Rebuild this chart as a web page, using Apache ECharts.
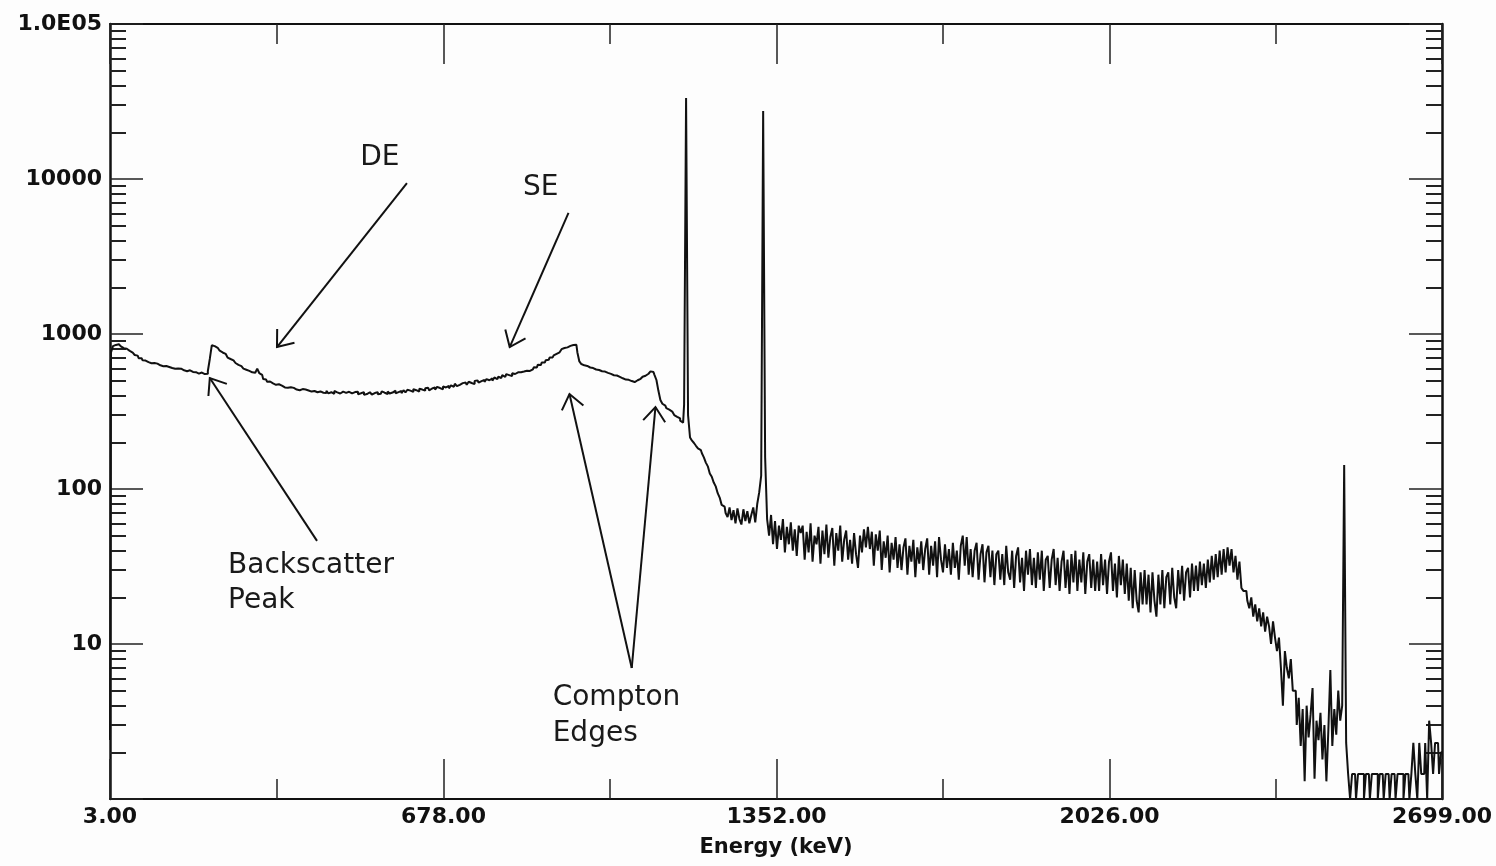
<!DOCTYPE html>
<html>
<head>
<meta charset="utf-8">
<title>Gamma spectrum</title>
<script src="https://cdn.jsdelivr.net/npm/echarts@6/dist/echarts.min.js"></script>
<style>
    html, body { margin: 0; padding: 0; background: #fdfdfd; }
    #chart { width: 1496px; height: 866px; }
</style>
</head>
<body>
<div id="chart"></div>
<script>
    // channel grid of the spectrum (keV)
    const firstEnergy = 3;
    const channelWidth = 4;

    // counts per channel, one row = 100 keV (25 channels)
    const counts = [
        2.4, 760, 835, 850, 858, 845, 832, 810, 803, 785, 778, 758, 751, 732, 725, 698, 697, 676, 674, 658, 667, 648, 650, 638, 644,
        628, 631, 620, 622, 617, 613, 603, 615, 596, 599, 587, 597, 583, 585, 575, 583, 569, 569, 567, 565, 555, 564, 550, 551, 553,
        575, 690, 845, 835, 815, 795, 780, 760, 745, 728, 705, 690, 676, 660, 650, 632, 620, 606, 598, 588, 578, 575, 566, 562, 558,
        598, 560, 545, 512, 508, 492, 494, 480, 482, 470, 474, 462, 465, 452, 460, 450, 454, 444, 449, 438, 446, 434, 441, 432, 438,
        432, 441, 425, 429, 437, 421, 426, 433, 418, 416, 430, 414, 421, 411, 429, 420, 413, 409, 425, 417, 408, 424, 414, 410, 422,
        424, 409, 415, 422, 405, 410, 421, 425, 407, 416, 422, 408, 411, 427, 418, 410, 426, 413, 419, 431, 414, 422, 429, 415, 434,
        420, 437, 431, 423, 441, 434, 425, 444, 438, 431, 446, 450, 433, 445, 453, 437, 456, 448, 440, 459, 452, 462, 446, 466, 457,
        478, 461, 470, 482, 475, 486, 470, 492, 483, 475, 497, 502, 485, 496, 506, 490, 512, 503, 518, 500, 524, 512, 530, 520, 543,
        528, 551, 543, 535, 558, 552, 566, 557, 567, 573, 564, 580, 578, 588, 592, 610, 609, 634, 630, 656, 654, 678, 682, 706, 706,
        728, 745, 762, 780, 798, 812, 820, 826, 838, 850, 858, 852, 760, 665, 640, 628, 622, 615, 608, 603, 598, 590, 586, 578, 575,
        572, 564, 561, 553, 549, 542, 540, 531, 529, 518, 516, 508, 506, 498, 497, 490, 498, 503, 514, 518, 530, 538, 554, 562, 574,
        568, 545, 505, 430, 375, 355, 345, 332, 325, 316, 310, 300, 292, 285, 276, 268, 350, 33300, 300, 215, 205, 198, 190, 183, 178,
        170, 160, 148, 140, 126, 120, 110, 104, 94, 88, 79, 77, 70, 66, 76, 63, 73, 60, 75, 64, 59, 74, 62, 72, 60,
        68, 76, 61, 80, 95, 122, 27500, 160, 64, 50, 68, 44, 62, 41, 58, 47, 64, 39, 57, 44, 61, 40, 55, 37, 58,
        52, 58, 35, 53, 39, 60, 34, 50, 44, 57, 33, 54, 38, 59, 36, 49, 56, 32, 52, 40, 58, 34, 47, 54, 35,
        47, 33, 52, 38, 31, 50, 39, 55, 42, 57, 41, 53, 32, 51, 40, 54, 30, 46, 36, 50, 29, 45, 35, 49, 31,
        44, 30, 42, 48, 28, 43, 34, 47, 27, 42, 33, 46, 30, 41, 48, 28, 43, 32, 46, 27, 49, 35, 29, 44, 31,
        41, 28, 45, 31, 40, 26, 43, 50, 32, 49, 28, 41, 27, 40, 45, 26, 38, 44, 25, 39, 43, 27, 40, 24, 38,
        40, 26, 38, 24, 43, 29, 26, 40, 23, 37, 42, 25, 36, 22, 40, 28, 41, 24, 36, 23, 39, 26, 40, 22, 35,
        37, 23, 35, 41, 24, 36, 22, 34, 40, 23, 35, 21, 38, 25, 40, 22, 35, 25, 39, 21, 34, 38, 23, 35, 22,
        34, 22, 38, 24, 35, 21, 34, 39, 22, 33, 20, 37, 24, 35, 21, 33, 19, 31, 17, 30, 19, 16, 29, 18, 30,
        18, 28, 16, 29, 19, 15, 28, 18, 30, 17, 27, 29, 18, 31, 20, 17, 30, 21, 32, 19, 29, 31, 20, 33, 22,
        32, 22, 34, 24, 33, 23, 35, 25, 37, 26, 38, 27, 40, 28, 41, 29, 42, 32, 41, 29, 37, 26, 34, 23, 22,
        22, 19, 17, 20, 15, 18, 14, 17, 13, 16, 12, 15, 13, 10, 14, 11, 9, 11, 7, 4, 9, 7, 6, 8, 5,
        5, 3, 4.5, 2.2, 3.8, 1.3, 4, 2.5, 3.5, 5.2, 1.35, 3.2, 2.4, 3.6, 1.8, 3, 1.3, 2.8, 6.8, 2.2, 3.8, 2.6, 5, 3.2, 4,
        143, 2.3, 1.45, 1, 1.45, 1.45, 1, 1.45, 1.45, 1.45, 1, 1.45, 1.45, 1, 1.45, 1.45, 1.45, 1, 1.45, 1.45, 1, 1.45, 1.45, 1, 1.45,
        1.45, 1, 1.45, 1.45, 1.45, 1, 1.45, 1.45, 1, 1.45, 2.3, 1.45, 1, 2.3, 1.45, 1.45, 2.3, 1, 3.2, 2.3, 1.45, 2.3, 2.3, 1.45, 2
    ];

    const xTickValues = [3, 678, 1352, 2026, 2699];
    const xMinorTicks = [340, 1015, 1689, 2362];
    const yTickValues = [1, 10, 100, 1000, 10000, 100000];
    const yTickLabels = ['', '10', '100', '1000', '10000', '1.0E05'];
    const decades = [0, 1, 2, 3, 4];
    const minorMultipliers = [2, 3, 4, 5, 6, 7, 8, 9];

    // annotations, anchored in data coordinates [keV, counts]
    const labelNotes = [
        {text: 'DE', at: [549, 13660], align: 'center'},
        {text: 'SE', at: [875, 8750], align: 'center'},
        {text: 'Backscatter', at: [242, 31.8], align: 'left'},
        {text: 'Peak', at: [242, 18.9], align: 'left'},
        {text: 'Compton', at: [899, 4.49], align: 'left'},
        {text: 'Edges', at: [899, 2.62], align: 'left'}
    ];
    const arrowNotes = [
        {from: [604, 9420], to: [341, 824]},
        {from: [931, 6040], to: [812, 824]},
        {from: [422, 46.3], to: [205, 520]},
        {from: [1059, 7.0], to: [933, 410]},
        {from: [1059, 7.0], to: [1107, 338]}
    ];

    const spectrum = counts.map((c, i) => [firstEnergy + i * channelWidth, c]);
    const yMinorTicks = [];
    decades.forEach(d => minorMultipliers.forEach(m => yMinorTicks.push(d + Math.log10(m))));

    const ink = '#111';
    const axisFont = {fontFamily: 'DejaVu Sans', fontWeight: 'bold', fontSize: 22, color: ink};

    function xAxisOf(position, ticks, len, main) {
        return {
            type: 'value',
            position: position,
            min: 3,
            max: 2699,
            axisLine: {show: main, onZero: false, lineStyle: {color: ink, width: 2}},
            axisTick: {show: true, inside: true, length: len, customValues: ticks, lineStyle: {color: '#222', width: 1.5}},
            axisLabel: {show: false},
            splitLine: {show: false}
        };
    }

    function yAxisOf(position, main) {
        if (main) {
            return {
                type: 'log',
                logBase: 10,
                position: position,
                min: 1,
                max: 100000,
                axisLine: {show: true, onZero: false, lineStyle: {color: ink, width: 2.5}},
                axisTick: {show: true, inside: true, length: 33, lineStyle: {color: '#222', width: 1.5}},
                axisLabel: {show: false},
                splitLine: {show: false}
            };
        }
        return {
            type: 'value',
            position: position,
            min: 0,
            max: 5,
            axisLine: {show: false},
            axisTick: {show: true, inside: true, length: 16, customValues: yMinorTicks, lineStyle: {color: '#222', width: 2}},
            axisLabel: {show: false},
            splitLine: {show: false}
        };
    }

    const xBottom = xAxisOf('bottom', xTickValues, 40, true);
    xBottom.axisLabel = {
        show: true,
        customValues: xTickValues,
        margin: 7,
        formatter: v => v.toFixed(2),
        ...axisFont
    };
    xBottom.name = 'Energy (keV)';
    xBottom.nameLocation = 'middle';
    xBottom.nameGap = 38;
    xBottom.nameTextStyle = {...axisFont, fontSize: 21};

    const yLeft = yAxisOf('left', true);
    yLeft.axisLabel = {
        show: true,
        margin: 8,
        formatter: v => {
            const k = yTickValues.indexOf(Math.round(v));
            return k < 0 ? '' : yTickLabels[k];
        },
        ...axisFont
    };

    const chart = echarts.init(document.getElementById('chart'));
    chart.setOption({
        backgroundColor: '#fdfdfd',
        animation: false,
        grid: {left: 110, right: 54, top: 24, bottom: 67},
        xAxis: [
            xBottom,
            xAxisOf('bottom', xMinorTicks, 20, false),
            xAxisOf('top', xTickValues, 40, true),
            xAxisOf('top', xMinorTicks, 20, false)
        ],
        yAxis: [
            yLeft,
            yAxisOf('left', false),
            yAxisOf('right', true),
            yAxisOf('right', false)
        ],
        series: [
            {
                type: 'line',
                xAxisIndex: 0,
                yAxisIndex: 0,
                data: spectrum,
                step: 'middle',
                symbol: 'none',
                showSymbol: false,
                lineStyle: {color: ink, width: 2},
                z: 3
            }
        ]
    });

    // annotations in pixels, from data coordinates
    const toPx = p => chart.convertToPixel({xAxisIndex: 0, yAxisIndex: 0}, p);
    const graphics = [];
    labelNotes.forEach(n => {
        const p = toPx(n.at);
        graphics.push({
            type: 'text',
            x: p[0],
            y: p[1],
            style: {
                text: n.text,
                fontFamily: 'DejaVu Sans',
                fontSize: 28,
                fill: '#1a1a1a',
                align: n.align,
                verticalAlign: 'middle'
            }
        });
    });
    arrowNotes.forEach(a => {
        const p0 = toPx(a.from);
        const p1 = toPx(a.to);
        const ang = Math.atan2(p0[1] - p1[1], p0[0] - p1[0]);
        const head = 18;
        const spread = 0.66;
        graphics.push({
            type: 'line',
            shape: {x1: p0[0], y1: p0[1], x2: p1[0], y2: p1[1]},
            style: {stroke: ink, lineWidth: 2}
        });
        graphics.push({
            type: 'polyline',
            shape: {
                points: [
                    [p1[0] + head * Math.cos(ang - spread), p1[1] + head * Math.sin(ang - spread)],
                    [p1[0], p1[1]],
                    [p1[0] + head * Math.cos(ang + spread), p1[1] + head * Math.sin(ang + spread)]
                ]
            },
            style: {stroke: ink, lineWidth: 2, fill: null}
        });
    });
    chart.setOption({graphic: graphics});
</script>
</body>
</html>
